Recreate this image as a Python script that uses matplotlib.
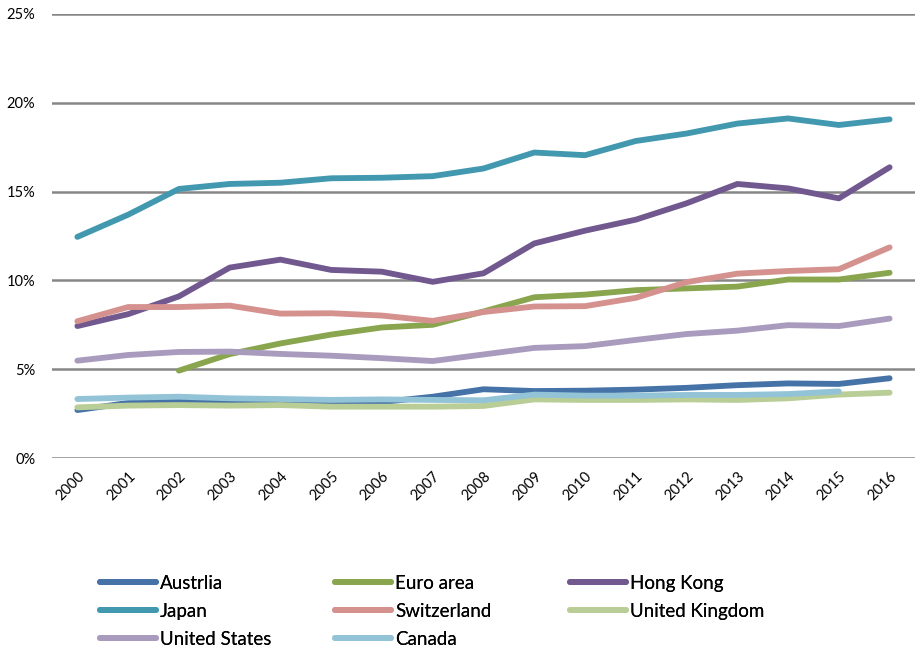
import numpy as np
import matplotlib
matplotlib.use("Agg")
import matplotlib.pyplot as plt
from matplotlib.lines import Line2D

plt.rcParams['font.family'] = ['Lato', 'DejaVu Sans']

years = [str(y) for y in range(2000, 2017)]
nan = np.nan

austrlia = [2.7, 3.1, 3.2, 3.15, 3.15, 3.1, 3.15, 3.45, 3.87, 3.77, 3.79, 3.85, 3.95, 4.1, 4.2, 4.17, 4.49]
euro_area = [nan, nan, 4.92, 5.85, 6.45, 6.95, 7.35, 7.5, 8.25, 9.05, 9.2, 9.45, 9.55, 9.65, 10.05, 10.05, 10.43]
hong_kong = [7.43, 8.1, 9.1, 10.72, 11.17, 10.59, 10.49, 9.92, 10.4, 12.08, 12.8, 13.42, 14.34, 15.43, 15.18, 14.62, 16.37]
japan = [12.45, 13.7, 15.15, 15.43, 15.5, 15.75, 15.78, 15.87, 16.3, 17.2, 17.05, 17.85, 18.27, 18.83, 19.12, 18.75, 19.07]
switzerland = [7.7, 8.5, 8.5, 8.58, 8.13, 8.15, 8.02, 7.72, 8.22, 8.53, 8.55, 9.02, 9.9, 10.38, 10.53, 10.63, 11.86]
united_kingdom = [2.85, 2.95, 2.98, 2.95, 2.98, 2.89, 2.89, 2.89, 2.93, 3.3, 3.27, 3.27, 3.3, 3.27, 3.36, 3.57, 3.68]
united_states = [5.48, 5.8, 5.97, 5.99, 5.86, 5.76, 5.62, 5.46, 5.83, 6.2, 6.3, 6.65, 6.98, 7.17, 7.48, 7.43, 7.85]
canada = [3.32, 3.4, 3.45, 3.36, 3.32, 3.27, 3.3, 3.27, 3.25, 3.57, 3.51, 3.51, 3.55, 3.55, 3.6, 3.75, nan]

names = ["Austrlia", "Euro area", "Hong Kong", "Japan", "Switzerland",
         "United Kingdom", "United States", "Canada"]
series = [austrlia, euro_area, hong_kong, japan, switzerland,
          united_kingdom, united_states, canada]
colors = ["#4572A7", "#89A54E", "#71588F", "#4198AF", "#D4918E",
          "#B9CD96", "#A99BBD", "#93C3D6"]

fig = plt.figure(figsize=(9.15, 6.49), dpi=100)
ax = fig.add_axes([52 / 915, 1 - 458 / 649, 1 - 52 / 915, (458 - 14) / 649])

x = np.arange(len(years))
for vals, c, n in zip(series, colors, names):
  ax.plot(x, vals, color=c, lw=4.2, solid_capstyle='round', label=n, zorder=3)

ax.set_xlim(-0.5, len(years) - 0.5)
ax.set_ylim(0, 25)
ax.set_yticks(range(0, 26, 5))
ax.set_yticklabels(["%d%%" % v for v in range(0, 26, 5)], fontsize=10.5)
ax.set_xticks(x)
ax.set_xticklabels(years, rotation=45, ha='right', va='top', rotation_mode='anchor', fontsize=10.5)
ax.tick_params(length=0, pad=8)
ax.tick_params(axis='y', pad=12)
ax.grid(axis='y', color='#868686', lw=1.8, zorder=1)
for s in ax.spines.values():
  s.set_visible(False)

# three legend columns, placed separately to match spacing
cols = [[0, 3, 6], [1, 4, 7], [2, 5]]
col_x = [100, 335, 570]
for idx, cx in zip(cols, col_x):
  handles = [Line2D([], [], color=colors[i], lw=4.2, solid_capstyle='round') for i in idx]
  leg = fig.legend(handles, [names[i] for i in idx], loc='upper left',
                   bbox_to_anchor=(cx / 915, 1 - 575 / 649), frameon=False,
                   fontsize=13.5, handlelength=3.0, handletextpad=0.2,
                   labelspacing=0.58, borderaxespad=0, borderpad=0)
  fig.add_artist(leg)

fig.savefig("out.png", dpi=100)
